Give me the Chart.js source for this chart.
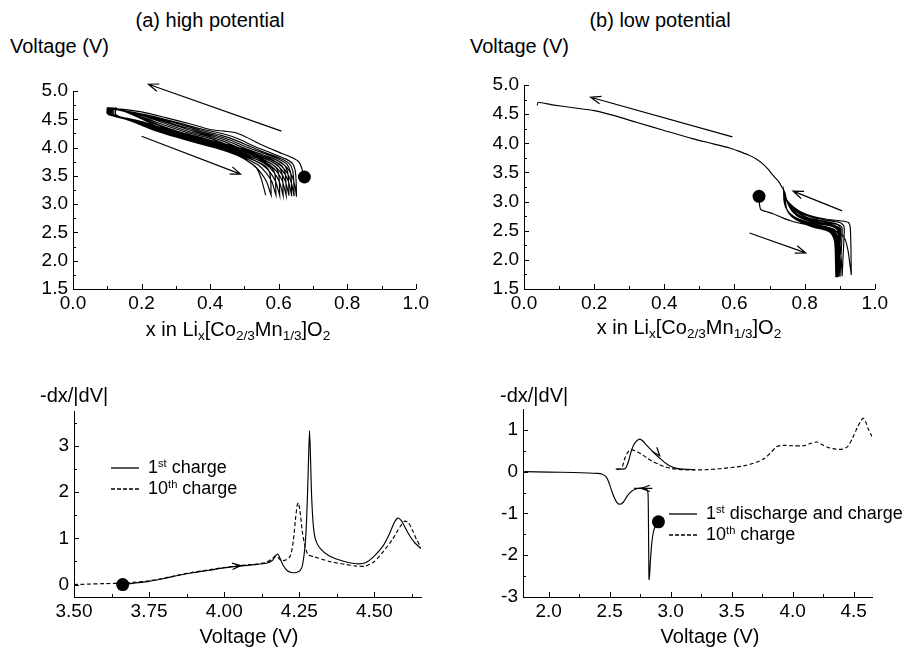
<!DOCTYPE html>
<html><head><meta charset="utf-8">
<script src="https://cdn.jsdelivr.net/npm/chart.js@4.4.1/dist/chart.umd.min.js"></script>
<style>
html,body{margin:0;padding:0;background:#fff;}
body{width:903px;height:648px;position:relative;overflow:hidden;font-family:'Liberation Sans',Arial,sans-serif;color:#000;}
canvas{position:absolute;}
.t{position:absolute;white-space:nowrap;font-size:20px;line-height:20px;}
.c{transform:translateX(-50%);}
sub{font-size:0.68em;vertical-align:-0.32em;line-height:0;}
sup{font-size:0.62em;vertical-align:0.55em;line-height:0;}
.leg{position:absolute;white-space:nowrap;font-size:18px;line-height:18px;}
.leg svg{vertical-align:middle;margin-right:9px;}
</style></head><body>
<canvas id="aTop"></canvas><canvas id="bTop"></canvas><canvas id="aBot"></canvas><canvas id="bBot"></canvas>
<div class="t c" style="left:210px;top:10px">(a) high potential</div>
<div class="t c" style="left:660px;top:10px">(b) low potential</div>
<div class="t" style="left:10px;top:36px">Voltage (V)</div>
<div class="t" style="left:470px;top:36px">Voltage (V)</div>
<div class="t c" style="left:238px;top:319px">x in Li<sub>x</sub>[Co<sub>2/3</sub>Mn<sub>1/3</sub>]O<sub>2</sub></div>
<div class="t c" style="left:689px;top:317px">x in Li<sub>x</sub>[Co<sub>2/3</sub>Mn<sub>1/3</sub>]O<sub>2</sub></div>
<div class="t" style="left:40px;top:385px">-dx/|dV|</div>
<div class="t" style="left:500px;top:385px">-dx/|dV|</div>
<div class="t c" style="left:249px;top:626px">Voltage (V)</div>
<div class="t c" style="left:710px;top:626px">Voltage (V)</div>
<div class="leg" style="left:111px;top:458px"><svg width="28" height="4"><line x1="0" y1="2" x2="28" y2="2" stroke="#000" stroke-width="1.3"/></svg>1<sup>st</sup> charge</div>
<div class="leg" style="left:111px;top:479px"><svg width="28" height="4"><line x1="0" y1="2" x2="28" y2="2" stroke="#000" stroke-width="1.3" stroke-dasharray="4 2"/></svg>10<sup>th</sup> charge</div>
<div class="leg" style="left:669px;top:504px"><svg width="28" height="4"><line x1="0" y1="2" x2="28" y2="2" stroke="#000" stroke-width="1.3"/></svg>1<sup>st</sup> discharge and charge</div>
<div class="leg" style="left:669px;top:525px"><svg width="28" height="4"><line x1="0" y1="2" x2="28" y2="2" stroke="#000" stroke-width="1.3" stroke-dasharray="4 2"/></svg>10<sup>th</sup> charge</div>
<script>
const FONT = 'Liberation Sans';

// ---------- (a) high potential: voltage vs x, 10 cycles ----------
const aTopStartDot = [0.675, 3.48];
const aTopCharge = [
 [[0.675,3.48],[0.668,3.62],[0.66,3.74],[0.64,3.82],[0.60,3.92],[0.55,4.05],[0.50,4.20],[0.47,4.27],[0.44,4.29],[0.40,4.32],[0.34,4.42],[0.27,4.53],[0.20,4.63],[0.14,4.68],[0.10,4.70]],
 [[0.652,3.13],[0.651,3.40],[0.648,3.60],[0.64,3.72],[0.62,3.80],[0.58,3.90],[0.53,4.02],[0.48,4.16],[0.44,4.24],[0.38,4.32],[0.30,4.45],[0.22,4.57],[0.15,4.65],[0.102,4.70]],
 [[0.645,3.14],[0.644,3.40],[0.641,3.59],[0.632,3.71],[0.612,3.79],[0.57,3.89],[0.52,4.01],[0.47,4.14],[0.43,4.22],[0.37,4.31],[0.30,4.43],[0.22,4.56],[0.15,4.64],[0.104,4.70]],
 [[0.638,3.14],[0.637,3.40],[0.634,3.58],[0.625,3.70],[0.605,3.78],[0.565,3.88],[0.51,4.00],[0.46,4.13],[0.42,4.21],[0.36,4.30],[0.29,4.42],[0.22,4.55],[0.155,4.64],[0.106,4.70]],
 [[0.630,3.15],[0.629,3.40],[0.626,3.57],[0.617,3.69],[0.597,3.77],[0.555,3.87],[0.50,3.99],[0.45,4.12],[0.41,4.20],[0.35,4.29],[0.29,4.41],[0.22,4.54],[0.16,4.63],[0.108,4.70]],
 [[0.622,3.15],[0.621,3.40],[0.618,3.57],[0.609,3.68],[0.589,3.76],[0.547,3.86],[0.49,3.98],[0.44,4.11],[0.40,4.19],[0.34,4.28],[0.28,4.40],[0.22,4.53],[0.16,4.63],[0.110,4.70]],
 [[0.613,3.15],[0.612,3.40],[0.609,3.56],[0.600,3.67],[0.580,3.75],[0.538,3.85],[0.48,3.97],[0.43,4.10],[0.39,4.18],[0.33,4.27],[0.27,4.39],[0.21,4.52],[0.16,4.62],[0.113,4.70]],
 [[0.603,3.15],[0.602,3.40],[0.599,3.56],[0.590,3.66],[0.570,3.74],[0.528,3.84],[0.47,3.96],[0.42,4.09],[0.38,4.17],[0.32,4.26],[0.26,4.38],[0.21,4.50],[0.165,4.61],[0.116,4.70]],
 [[0.592,3.16],[0.591,3.40],[0.588,3.55],[0.579,3.65],[0.559,3.73],[0.517,3.83],[0.46,3.95],[0.41,4.08],[0.37,4.16],[0.31,4.25],[0.26,4.37],[0.21,4.49],[0.17,4.60],[0.120,4.70]],
 [[0.578,3.16],[0.577,3.40],[0.574,3.55],[0.565,3.65],[0.545,3.73],[0.503,3.83],[0.45,3.95],[0.40,4.07],[0.36,4.15],[0.30,4.24],[0.25,4.36],[0.21,4.48],[0.17,4.59],[0.125,4.70]]
];
const aTopDischarge = [
 [[0.100,4.70],[0.100,4.60],[0.14,4.54],[0.20,4.46],[0.27,4.33],[0.34,4.22],[0.42,4.10],[0.50,3.97],[0.56,3.86],[0.60,3.76],[0.625,3.64],[0.640,3.48],[0.648,3.30],[0.652,3.13]],
 [[0.102,4.70],[0.102,4.59],[0.14,4.53],[0.20,4.45],[0.27,4.32],[0.34,4.20],[0.42,4.08],[0.50,3.95],[0.555,3.84],[0.595,3.73],[0.618,3.61],[0.633,3.45],[0.641,3.28],[0.645,3.14]],
 [[0.104,4.70],[0.104,4.59],[0.145,4.52],[0.20,4.44],[0.27,4.31],[0.34,4.19],[0.42,4.07],[0.49,3.95],[0.55,3.83],[0.588,3.72],[0.61,3.60],[0.626,3.44],[0.634,3.27],[0.638,3.14]],
 [[0.106,4.70],[0.106,4.59],[0.15,4.51],[0.21,4.42],[0.28,4.29],[0.35,4.17],[0.42,4.06],[0.49,3.94],[0.545,3.82],[0.58,3.71],[0.602,3.59],[0.618,3.43],[0.626,3.26],[0.630,3.15]],
 [[0.108,4.70],[0.108,4.59],[0.15,4.51],[0.21,4.41],[0.28,4.28],[0.35,4.16],[0.42,4.05],[0.48,3.94],[0.535,3.82],[0.572,3.70],[0.594,3.58],[0.61,3.42],[0.618,3.25],[0.622,3.15]],
 [[0.110,4.70],[0.110,4.59],[0.155,4.50],[0.22,4.38],[0.29,4.25],[0.36,4.13],[0.42,4.03],[0.48,3.92],[0.528,3.81],[0.563,3.70],[0.585,3.57],[0.601,3.41],[0.609,3.25],[0.613,3.15]],
 [[0.113,4.70],[0.113,4.59],[0.16,4.49],[0.22,4.37],[0.29,4.23],[0.36,4.11],[0.42,4.01],[0.47,3.92],[0.52,3.80],[0.553,3.69],[0.575,3.56],[0.591,3.40],[0.599,3.24],[0.603,3.15]],
 [[0.116,4.70],[0.116,4.58],[0.16,4.49],[0.23,4.34],[0.30,4.21],[0.37,4.09],[0.43,3.98],[0.47,3.90],[0.51,3.79],[0.543,3.68],[0.564,3.55],[0.580,3.40],[0.588,3.24],[0.592,3.16]],
 [[0.120,4.70],[0.120,4.58],[0.165,4.48],[0.235,4.32],[0.305,4.19],[0.375,4.07],[0.435,3.96],[0.475,3.88],[0.505,3.78],[0.531,3.67],[0.551,3.53],[0.566,3.38],[0.574,3.23],[0.578,3.16]],
 [[0.125,4.70],[0.125,4.58],[0.17,4.47],[0.24,4.30],[0.31,4.17],[0.38,4.05],[0.44,3.95],[0.48,3.86],[0.51,3.76],[0.535,3.64],[0.548,3.47],[0.556,3.30],[0.562,3.16]]
];
const aTopArrows = [[0.608,4.29,0.22,5.12],[0.20,4.20,0.489,3.53]];

// ---------- (b) low potential: voltage vs x ----------
const bTopStartDot = [0.670, 3.09];
const bTopDischarge = [
 [[0.670,3.09],[0.671,2.97],[0.675,2.86],[0.69,2.83],[0.71,2.79],[0.73,2.74],[0.76,2.67],[0.80,2.61],[0.84,2.56],[0.87,2.52],[0.90,2.46],[0.915,2.36],[0.924,2.15],[0.929,1.92],[0.933,1.74]],
 [[0.740,3.20],[0.741,3.02],[0.746,2.90],[0.757,2.80],[0.78,2.71],[0.82,2.63],[0.86,2.57],[0.885,2.52],[0.897,2.42],[0.902,2.2],[0.905,1.95],[0.907,1.72]],
 [[0.741,3.19],[0.742,3.01],[0.747,2.89],[0.758,2.79],[0.78,2.70],[0.82,2.62],[0.86,2.56],[0.882,2.51],[0.893,2.40],[0.897,2.2],[0.900,1.95],[0.901,1.71]],
 [[0.742,3.18],[0.743,3.00],[0.748,2.88],[0.76,2.78],[0.785,2.69],[0.82,2.61],[0.86,2.55],[0.880,2.50],[0.890,2.39],[0.894,2.2],[0.896,1.95],[0.897,1.71]],
 [[0.742,3.17],[0.744,2.99],[0.749,2.87],[0.761,2.77],[0.785,2.68],[0.82,2.60],[0.86,2.54],[0.878,2.49],[0.888,2.38],[0.892,2.2],[0.893,1.95],[0.894,1.70]],
 [[0.743,3.16],[0.745,2.98],[0.75,2.86],[0.762,2.76],[0.786,2.67],[0.82,2.59],[0.86,2.53],[0.877,2.48],[0.886,2.37],[0.890,2.2],[0.891,1.95],[0.892,1.70]],
 [[0.743,3.16],[0.745,2.97],[0.75,2.85],[0.763,2.75],[0.787,2.66],[0.82,2.58],[0.86,2.52],[0.876,2.47],[0.885,2.36],[0.888,2.2],[0.889,1.95],[0.890,1.70]],
 [[0.744,3.15],[0.746,2.96],[0.751,2.84],[0.764,2.74],[0.788,2.65],[0.82,2.57],[0.86,2.51],[0.875,2.46],[0.884,2.35],[0.887,2.2],[0.888,1.95],[0.889,1.70]]
];
const bTopCharge = [
 [[0.933,1.74],[0.932,2.2],[0.930,2.55],[0.925,2.64],[0.90,2.67],[0.86,2.70],[0.82,2.75],[0.79,2.82],[0.77,2.90],[0.755,2.98],[0.745,3.08],[0.740,3.20]],
 [[0.907,1.72],[0.909,2.0],[0.912,2.35],[0.912,2.58],[0.90,2.64],[0.86,2.68],[0.82,2.73],[0.79,2.80],[0.77,2.88],[0.755,2.97],[0.745,3.08],[0.741,3.19]],
 [[0.901,1.71],[0.903,2.0],[0.906,2.35],[0.906,2.56],[0.89,2.62],[0.85,2.67],[0.81,2.72],[0.785,2.80],[0.767,2.88],[0.753,2.97],[0.745,3.07],[0.742,3.18]],
 [[0.897,1.71],[0.899,2.0],[0.902,2.35],[0.902,2.55],[0.89,2.61],[0.85,2.66],[0.81,2.71],[0.785,2.79],[0.767,2.87],[0.754,2.96],[0.746,3.06],[0.742,3.17]],
 [[0.894,1.70],[0.896,2.0],[0.899,2.35],[0.899,2.54],[0.88,2.60],[0.84,2.65],[0.805,2.71],[0.78,2.78],[0.765,2.86],[0.754,2.95],[0.746,3.06],[0.743,3.16]],
 [[0.892,1.70],[0.894,2.0],[0.897,2.35],[0.897,2.53],[0.88,2.59],[0.84,2.64],[0.805,2.70],[0.78,2.77],[0.765,2.85],[0.754,2.95],[0.747,3.05],[0.743,3.16]],
 [[0.890,1.70],[0.892,2.0],[0.895,2.35],[0.895,2.52],[0.88,2.58],[0.84,2.63],[0.805,2.69],[0.78,2.76],[0.765,2.84],[0.754,2.94],[0.747,3.05],[0.744,3.15]],
 [[0.889,1.70],[0.891,2.0],[0.894,2.35],[0.894,2.51],[0.88,2.57],[0.84,2.62],[0.805,2.68],[0.78,2.75],[0.765,2.83],[0.755,2.93],[0.748,3.04],[0.744,3.15],
  [0.735,3.25],[0.725,3.35],[0.71,3.45],[0.695,3.56],[0.68,3.65],[0.66,3.74],[0.64,3.80],[0.61,3.87],[0.586,3.92],[0.54,3.99],[0.48,4.08],[0.40,4.22],[0.32,4.36],[0.26,4.47],[0.20,4.56],[0.14,4.61],[0.08,4.66],[0.04,4.70],[0.038,4.65]]
];
const bTopArrows = [[0.594,4.11,0.19,4.79],[0.907,2.84,0.767,3.18],[0.643,2.46,0.803,2.12]];

// ---------- (a) bottom: -dx/|dV| vs V ----------
const aBotFirst = [[3.662,0.00],[3.70,0.03],[3.75,0.07],[3.80,0.13],[3.85,0.20],[3.90,0.26],[3.95,0.31],[4.00,0.36],[4.05,0.40],[4.10,0.43],[4.14,0.46],[4.16,0.52],[4.172,0.63],[4.178,0.66],[4.185,0.58],[4.195,0.43],[4.21,0.30],[4.225,0.26],[4.245,0.27],[4.258,0.36],[4.266,0.65],[4.272,1.1],[4.277,1.9],[4.281,2.8],[4.284,3.33],[4.287,2.8],[4.291,1.9],[4.297,1.25],[4.305,0.95],[4.32,0.78],[4.35,0.62],[4.40,0.50],[4.44,0.45],[4.47,0.47],[4.50,0.62],[4.53,0.85],[4.55,1.1],[4.565,1.33],[4.578,1.44],[4.59,1.38],[4.605,1.2],[4.62,1.03],[4.635,0.9],[4.655,0.78]];
const aBotTenth = [[3.50,0.00],[3.55,0.01],[3.60,0.02],[3.66,0.03],[3.70,0.05],[3.75,0.08],[3.80,0.14],[3.85,0.21],[3.90,0.27],[3.95,0.32],[4.00,0.37],[4.05,0.41],[4.10,0.44],[4.14,0.48],[4.16,0.56],[4.17,0.62],[4.18,0.58],[4.19,0.52],[4.205,0.53],[4.22,0.62],[4.23,0.95],[4.237,1.4],[4.243,1.72],[4.247,1.77],[4.252,1.6],[4.26,1.15],[4.27,0.8],[4.28,0.64],[4.30,0.60],[4.35,0.50],[4.40,0.44],[4.44,0.40],[4.47,0.40],[4.50,0.50],[4.53,0.72],[4.56,0.98],[4.585,1.25],[4.60,1.37],[4.612,1.35],[4.625,1.2],[4.64,0.98],[4.655,0.8]];
const aBotDot = [3.662, 0.0];
const aBotArrows = [[3.98,0.37,4.055,0.41,'head']];

// ---------- (b) bottom ----------
const bBotDischarge = [[2.90,-1.20],[2.875,-1.30],[2.858,-1.45],[2.845,-1.72],[2.835,-2.1],[2.828,-2.45],[2.823,-2.58],[2.821,-2.2],[2.819,-1.5],[2.817,-0.9],[2.815,-0.55],[2.81,-0.45],[2.79,-0.40],[2.76,-0.39],[2.72,-0.41],[2.68,-0.47],[2.645,-0.58],[2.615,-0.72],[2.585,-0.78],[2.56,-0.74],[2.535,-0.6],[2.51,-0.4],[2.49,-0.23],[2.47,-0.12],[2.44,-0.06],[2.40,-0.04],[2.20,-0.02],[2.00,-0.01],[1.80,0.00]];
const bBotCharge = [[2.55,0.06],[2.60,0.06],[2.63,0.08],[2.655,0.25],[2.68,0.52],[2.71,0.70],[2.745,0.78],[2.77,0.74],[2.80,0.64],[2.84,0.52],[2.88,0.40],[2.92,0.30],[2.96,0.20],[3.00,0.13],[3.05,0.08],[3.10,0.06],[3.20,0.05]];
const bBotTenth = [[2.56,0.06],[2.59,0.07],[2.605,0.12],[2.62,0.28],[2.64,0.42],[2.66,0.50],[2.68,0.52],[2.70,0.51],[2.73,0.47],[2.77,0.40],[2.81,0.32],[2.85,0.25],[2.90,0.18],[2.95,0.12],[3.00,0.08],[3.05,0.06],[3.10,0.05],[3.20,0.04],[3.30,0.05],[3.40,0.07],[3.50,0.10],[3.60,0.14],[3.70,0.22],[3.77,0.32],[3.82,0.45],[3.87,0.60],[3.92,0.63],[4.00,0.62],[4.09,0.62],[4.15,0.68],[4.20,0.71],[4.25,0.63],[4.30,0.57],[4.35,0.54],[4.41,0.54],[4.45,0.60],[4.49,0.80],[4.53,1.06],[4.56,1.22],[4.58,1.28],[4.60,1.18],[4.62,1.02],[4.65,0.84]];
const bBotDot = [2.90, -1.20];
const bBotArrows = [[2.85,-0.40,2.70,-0.40,'line'],[2.81,-0.40,2.76,-0.40,'head'],[2.86,0.56,2.91,0.38,'head']];

// ---------- tick values ----------
const topXTicks = [0.0,0.2,0.4,0.6,0.8,1.0];
const topXMinor = [0.1,0.3,0.5,0.7,0.9];
const topYTicks = [1.5,2.0,2.5,3.0,3.5,4.0,4.5,5.0];
const topYMinor = [1.75,2.25,2.75,3.25,3.75,4.25,4.75];
const aBotXTicks = [3.50,3.75,4.00,4.25,4.50];
const aBotXMinor = [3.625,3.875,4.125,4.375,4.625];
const aBotYTicks = [0,1,2,3];
const aBotYMinor = [0.5,1.5,2.5,3.5];
const bBotXTicks = [2.0,2.5,3.0,3.5,4.0,4.5];
const bBotXMinor = [2.25,2.75,3.25,3.75,4.25];
const bBotYTicks = [-3,-2,-1,0,1];
const bBotYMinor = [-2.5,-1.5,-0.5,0.5];

const pts = a => a.map(p => ({x:p[0], y:p[1]}));
function cycleSeq(first, second){
  const out=[];
  for(let i=0;i<Math.max(first.length,second.length);i++){
    if(first[i]) out.push(...pts(first[i]));
    if(second[i]) out.push(...pts(second[i]));
  }
  return out;
}
function lineDs(data, dash){
  return {data, showLine:true, borderColor:'#000', borderWidth:1.15, pointRadius:0, fill:false, borderDash:dash||[], tension:0.25};
}
function dotDs(p){
  return {data:[{x:p[0],y:p[1]}], showLine:false, pointRadius:6.5, pointBackgroundColor:'#000', pointBorderWidth:0, borderColor:'#000'};
}

const inTicks = {
  id:'inTicks',
  afterDatasetsDraw(chart, args, o){
    const {ctx, chartArea:a, scales:{x,y}} = chart;
    ctx.save(); ctx.strokeStyle='#000'; ctx.lineWidth=1; ctx.beginPath();
    const vx=(v,len)=>{const p=Math.round(x.getPixelForValue(v))+0.5; ctx.moveTo(p,a.bottom); ctx.lineTo(p,a.bottom-len);};
    const vy=(v,len)=>{const p=Math.round(y.getPixelForValue(v))+0.5; ctx.moveTo(a.left,p); ctx.lineTo(a.left+len,p);};
    o.xMajor.forEach(v=>vx(v,5)); o.xMinor.forEach(v=>vx(v,3));
    o.yMajor.forEach(v=>vy(v,5)); o.yMinor.forEach(v=>vy(v,3));
    ctx.stroke(); ctx.restore();
  }
};
const arrowPlugin = {
  id:'arrows',
  afterDatasetsDraw(chart, args, o){
    const {ctx, scales:{x,y}} = chart;
    ctx.save(); ctx.strokeStyle='#000'; ctx.lineWidth=1.2; ctx.lineJoin='miter';
    (o.list||[]).forEach(a=>{
      const p1={x:x.getPixelForValue(a[0]), y:y.getPixelForValue(a[1])};
      const p2={x:x.getPixelForValue(a[2]), y:y.getPixelForValue(a[3])};
      const mode=a[4]||'arrow';
      const ang=Math.atan2(p2.y-p1.y, p2.x-p1.x);
      ctx.beginPath();
      if(mode!=='head'){ ctx.moveTo(p1.x,p1.y); ctx.lineTo(p2.x,p2.y); }
      if(mode!=='line'){
        const L=o.head||11, A=0.36;
        ctx.moveTo(p2.x-L*Math.cos(ang-A), p2.y-L*Math.sin(ang-A));
        ctx.lineTo(p2.x,p2.y);
        ctx.lineTo(p2.x-L*Math.cos(ang+A), p2.y-L*Math.sin(ang+A));
      }
      ctx.stroke();
    });
    ctx.restore();
  }
};

function makePanel(id, area, cfg){
  const padL=72, padT=24, padR=16, padB=40;
  const cv=document.getElementById(id);
  const W=Math.round(area.r-area.l+padL+padR), H=Math.round(area.b-area.t+padT+padB);
  cv.width=W; cv.height=H;
  cv.style.left=(area.l-padL)+'px'; cv.style.top=(area.t-padT)+'px';
  cv.style.width=W+'px'; cv.style.height=H+'px';
  const tickFont={family:FONT, size:19};
  new Chart(cv, {
    type:'scatter',
    data:{datasets:cfg.datasets},
    options:{
      responsive:false, animation:false, devicePixelRatio:1,
      layout:{padding:{left:0, top:padT, right:padR, bottom:0}},
      plugins:{legend:{display:false}, tooltip:{enabled:false},
        inTicks:{xMajor:cfg.xTicks, xMinor:cfg.xMinor, yMajor:cfg.yTicks, yMinor:cfg.yMinor},
        arrows:{list:cfg.arrows, head:cfg.head}},
      scales:{
        x:{type:'linear', min:cfg.xMin, max:cfg.xMax,
          afterBuildTicks:s=>{s.ticks=cfg.xTicks.map(v=>({value:v}));},
          afterFit:s=>{s.height=padB;},
          grid:{display:false, drawTicks:false}, border:{display:true, color:'#000', width:1},
          ticks:{color:'#000', font:tickFont, padding:3, maxRotation:0, autoSkip:false, callback:v=>cfg.xFmt(v)}},
        y:{type:'linear', min:cfg.yMin, max:cfg.yMax,
          afterBuildTicks:s=>{s.ticks=cfg.yTicks.map(v=>({value:v}));},
          afterFit:s=>{s.width=padL;},
          grid:{display:false, drawTicks:false}, border:{display:true, color:'#000', width:1},
          ticks:{color:'#000', font:tickFont, padding:5, autoSkip:false, callback:v=>cfg.yFmt(v)}}
      }
    },
    plugins:[inTicks, arrowPlugin]
  });
}

makePanel('aTop', {l:73, t:90.7, r:416, b:289}, {
  xMin:0, xMax:1, yMin:1.5, yMax:5.0,
  xTicks:topXTicks, xMinor:topXMinor, yTicks:topYTicks, yMinor:topYMinor,
  xFmt:v=>v.toFixed(1), yFmt:v=>v.toFixed(1),
  datasets:[lineDs(cycleSeq(aTopCharge, aTopDischarge)), dotDs(aTopStartDot)],
  arrows:aTopArrows
});
makePanel('bTop', {l:524, t:85, r:875, b:288.7}, {
  xMin:0, xMax:1, yMin:1.5, yMax:5.0,
  xTicks:topXTicks, xMinor:topXMinor, yTicks:topYTicks, yMinor:topYMinor,
  xFmt:v=>v.toFixed(1), yFmt:v=>v.toFixed(1),
  datasets:[lineDs(cycleSeq(bTopDischarge, bTopCharge)), dotDs(bTopStartDot)],
  arrows:bTopArrows
});
makePanel('aBot', {l:74, t:410.7, r:420.7, b:596.7}, {
  xMin:3.5, xMax:4.655, yMin:-0.27, yMax:3.76,
  xTicks:aBotXTicks, xMinor:aBotXMinor, yTicks:aBotYTicks, yMinor:aBotYMinor,
  xFmt:v=>v.toFixed(2), yFmt:v=>v.toFixed(0),
  datasets:[lineDs(pts(aBotFirst)), lineDs(pts(aBotTenth),[4,2.5]), dotDs(aBotDot)],
  arrows:aBotArrows, head:9
});
makePanel('bBot', {l:523, t:409.3, r:872, b:597}, {
  xMin:1.79, xMax:4.65, yMin:-3, yMax:1.5,
  xTicks:bBotXTicks, xMinor:bBotXMinor, yTicks:bBotYTicks, yMinor:bBotYMinor,
  xFmt:v=>v.toFixed(1), yFmt:v=>v.toFixed(0),
  datasets:[lineDs(pts(bBotDischarge)), lineDs(pts(bBotCharge)), lineDs(pts(bBotTenth),[4,2.5]), dotDs(bBotDot)],
  arrows:bBotArrows, head:9
});
</script>
</body></html>
